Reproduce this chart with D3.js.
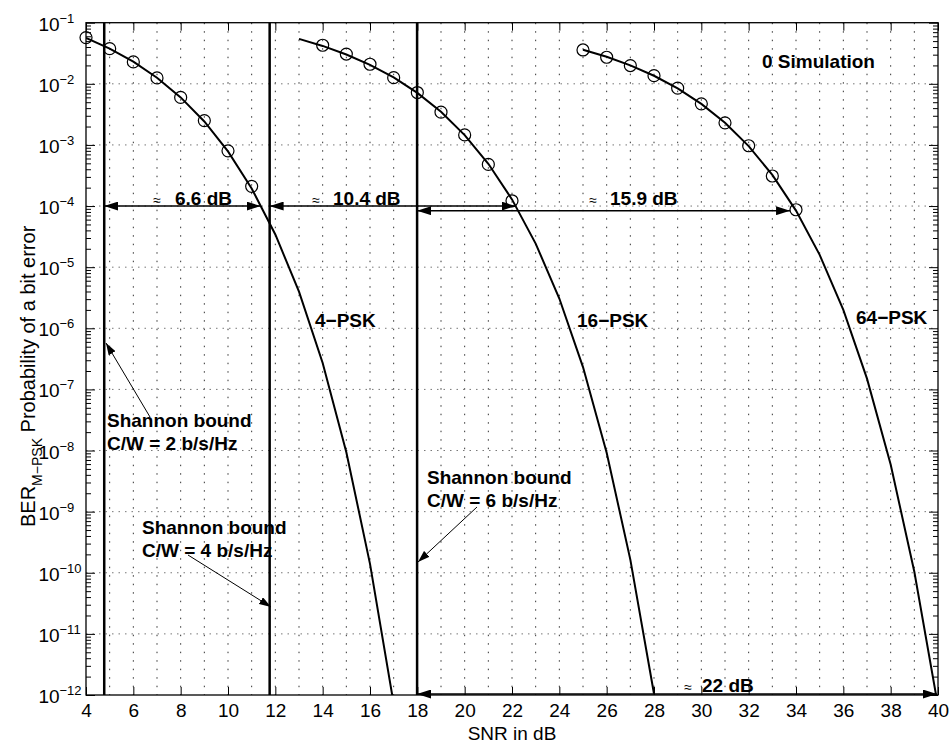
<!DOCTYPE html>
<html>
<head>
<meta charset="utf-8">
<script src="https://cdn.jsdelivr.net/npm/d3@7"></script>
<style>
  body { margin: 0; background: #fff; }
  text { font-family: "Liberation Sans", Arial, Helvetica, sans-serif; fill: #000; }
</style>
</head>
<body>
<svg id="chart" width="952" height="747"></svg>
<script>
// Bit error rate of M-PSK versus SNR (theory lines, simulation circles)
const snr4  = [4, 5, 6, 7, 8, 9, 10, 11, 12, 13, 14, 15, 16, 17];
const ber4  = [0.0565, 0.0377, 0.0230, 0.01258, 0.0060, 0.00242, 7.83e-4, 1.94e-4,
               3.43e-5, 3.97e-6, 2.70e-7, 9.4e-9, 1.40e-10, 7.2e-13];
const snr16 = [13, 14, 15, 16, 17, 18, 19, 20, 21, 22, 23, 24, 25, 26, 27, 28];
const ber16 = [0.0544, 0.0417, 0.0302, 0.0204, 0.0127, 0.0071, 0.00348, 0.00145,
               4.91e-4, 1.285e-4, 2.43e-5, 3.07e-6, 2.32e-7, 9.2e-9, 1.64e-10, 1.05e-12];
const snr64 = [25, 26, 27, 28, 29, 30, 31, 32, 33, 34, 35, 36, 37, 38, 39, 40];
const ber64 = [0.0362, 0.0277, 0.0200, 0.01355, 0.00842, 0.0047, 0.0023, 9.57e-4,
               3.23e-4, 8.42e-5, 1.59e-5, 2.0e-6, 1.5e-7, 5.9e-9, 1.04e-10, 6.6e-13];

const simSnr4  = [4, 5, 6, 7, 8, 9, 10, 11];
const simBer4  = [0.057, 0.0376, 0.0228, 0.0125, 0.0060, 0.0025, 0.00080, 0.00021];
const simSnr16 = [14, 15, 16, 17, 18, 19, 20, 21, 22];
const simBer16 = [0.0428, 0.0307, 0.0209, 0.0126, 0.0072, 0.00344, 0.00146, 0.00048, 0.000122];
const simSnr64 = [25, 26, 27, 28, 29, 30, 31, 32, 33, 34];
const simBer64 = [0.0358, 0.0272, 0.0199, 0.0136, 0.0085, 0.0047, 0.0023, 0.00097, 0.00031, 0.000087];

// Shannon limits (SNR in dB) for C/W = 2, 4, 6 b/s/Hz
const shannonSnr = [4.77, 11.76, 17.99];
const shannonLabels = ["C/W = 2 b/s/Hz", "C/W = 4 b/s/Hz", "C/W = 6 b/s/Hz"];

// Gaps between Shannon limit and curves
const gapFrom   = [4.77, 11.76, 17.99, 17.99];
const gapTo     = [11.38, 22.15, 33.75, 39.95];
const gapBer    = [1e-4, 1e-4, 8.4e-5, 1e-12];
const gapLabels = ["6.6 dB", "10.4 dB", "15.9 dB", "22 dB"];

const curveLabels = ["4\u2212PSK", "16\u2212PSK", "64\u2212PSK"];

const xTicks = [4, 6, 8, 10, 12, 14, 16, 18, 20, 22, 24, 26, 28, 30, 32, 34, 36, 38, 40];
const yExponents = [-1, -2, -3, -4, -5, -6, -7, -8, -9, -10, -11, -12];

const L = 86, R = 938, T = 22.7, B = 695;
const svg = d3.select("#chart");
const x = d3.scaleLinear().domain([4, 40]).range([L, R]);
const y = d3.scaleLog().domain([1e-12, 1e-1]).range([B, T]);

// arrowheads
const defs = svg.append("defs");
defs.append("marker").attr("id", "ah").attr("viewBox", "0 0 14 9")
  .attr("refX", 14).attr("refY", 4.5).attr("markerWidth", 14).attr("markerHeight", 9)
  .attr("markerUnits", "userSpaceOnUse").attr("orient", "auto-start-reverse")
  .append("path").attr("d", "M0,0L14,4.5L0,9Z").attr("fill", "#000");
defs.append("marker").attr("id", "ah2").attr("viewBox", "0 0 12 8")
  .attr("refX", 12).attr("refY", 4).attr("markerWidth", 12).attr("markerHeight", 8)
  .attr("markerUnits", "userSpaceOnUse").attr("orient", "auto")
  .append("path").attr("d", "M0,0L12,4L0,8Z").attr("fill", "#000");
defs.append("clipPath").attr("id", "plot").append("rect")
  .attr("x", L).attr("y", T).attr("width", R - L).attr("height", B - T);

// dotted grid
const grid = svg.append("g");
grid.selectAll("line.v").data(d3.range(5, 40)).join("line")
  .attr("x1", d => x(d)).attr("x2", d => x(d)).attr("y1", T).attr("y2", B)
  .attr("stroke", "#333").attr("stroke-width", 1).attr("stroke-dasharray", "1.5,7");
grid.selectAll("line.h").data(yExponents.slice(1, -1)).join("line")
  .attr("x1", L).attr("x2", R).attr("y1", d => y(Math.pow(10, d))).attr("y2", d => y(Math.pow(10, d)))
  .attr("stroke", "#777").attr("stroke-width", 1).attr("stroke-dasharray", "1.5,5");

// axes
const majorY = yExponents.map(e => Math.pow(10, e));
const minorY = [];
for (let e = -12; e <= -2; e++) for (let k = 2; k <= 9; k++) minorY.push(k * Math.pow(10, e));

const axB = svg.append("g").attr("transform", `translate(0,${B})`)
  .call(d3.axisBottom(x).tickValues(xTicks).tickSizeInner(-8).tickSizeOuter(0).tickPadding(8.5));
axB.selectAll("text").attr("font-size", 19).attr("font-family", "Liberation Sans, Arial, sans-serif");
svg.append("g").attr("transform", `translate(0,${T})`)
  .call(d3.axisTop(x).tickValues(xTicks).tickSizeInner(-8).tickSizeOuter(0).tickFormat(""));
svg.append("g").attr("transform", `translate(${L},0)`)
  .call(d3.axisLeft(y).tickValues(majorY).tickSizeInner(-9).tickSizeOuter(0).tickFormat(""));
svg.append("g").attr("transform", `translate(${L},0)`)
  .call(d3.axisLeft(y).tickValues(minorY).tickSizeInner(-5).tickSizeOuter(0).tickFormat(""));
svg.append("g").attr("transform", `translate(${R},0)`)
  .call(d3.axisRight(y).tickValues(majorY).tickSizeInner(-9).tickSizeOuter(0).tickFormat(""));
svg.append("g").attr("transform", `translate(${R},0)`)
  .call(d3.axisRight(y).tickValues(minorY).tickSizeInner(-5).tickSizeOuter(0).tickFormat(""));
svg.selectAll(".domain").remove();
svg.selectAll(".tick line").attr("stroke", "#000");
svg.append("rect").attr("x", L).attr("y", T).attr("width", R - L).attr("height", B - T)
  .attr("fill", "none").attr("stroke", "#000").attr("stroke-width", 1.3);

// y tick labels 10^e
const yl = svg.append("g").selectAll("text").data(yExponents).join("text")
  .attr("x", 38.4).attr("y", d => y(Math.pow(10, d)) + 8).attr("font-size", 19);
yl.append("tspan").text("10");
yl.append("tspan").attr("dy", -8).attr("font-size", 13).text(d => "\u2212" + (-d));

// axis titles
svg.append("text").attr("x", (L + R) / 2).attr("y", 740).attr("text-anchor", "middle")
  .attr("font-size", 19).text("SNR in dB");
const yt = svg.append("text").attr("transform", "translate(35,527) rotate(-90)").attr("font-size", 20);
yt.append("tspan").text("BER");
yt.append("tspan").attr("dy", 7).attr("font-size", 14).text("M\u2212PSK");
yt.append("tspan").attr("dy", -7).text(" Probability of a bit error");

// Shannon limit lines
svg.append("g").selectAll("line").data(shannonSnr).join("line")
  .attr("x1", d => x(d)).attr("x2", d => x(d)).attr("y1", T).attr("y2", B)
  .attr("stroke", "#000").attr("stroke-width", 2.5);

// theory curves
const line = d3.line().x(d => x(d[0])).y(d => y(d[1]));
const curves = svg.append("g").attr("clip-path", "url(#plot)");
[[snr4, ber4], [snr16, ber16], [snr64, ber64]].forEach(([s, b]) => {
  curves.append("path").attr("d", line(d3.zip(s, b)))
    .attr("fill", "none").attr("stroke", "#000").attr("stroke-width", 2);
});

// simulation markers
[[simSnr4, simBer4], [simSnr16, simBer16], [simSnr64, simBer64]].forEach(([s, b]) => {
  svg.append("g").selectAll("circle").data(d3.zip(s, b)).join("circle")
    .attr("cx", d => x(d[0])).attr("cy", d => y(d[1])).attr("r", 6)
    .attr("fill", "none").attr("stroke", "#000").attr("stroke-width", 1.2);
});

// gap arrows with labels
const gapTextX = [[157, 175], [316, 333], [593, 610], [688, 702]];
const gapTextY = [205, 205, 205, 692];
gapFrom.forEach((f, i) => {
  const yy = i === 3 ? B - 1 : y(gapBer[i]);
  svg.append("line").attr("x1", x(f)).attr("x2", x(gapTo[i])).attr("y1", yy).attr("y2", yy)
    .attr("stroke", "#000").attr("stroke-width", 1.5)
    .attr("marker-start", "url(#ah)").attr("marker-end", "url(#ah)");
  svg.append("text").attr("x", gapTextX[i][0]).attr("y", gapTextY[i]).attr("text-anchor", "middle")
    .attr("font-size", 14).text("\u2248");
  svg.append("text").attr("x", gapTextX[i][1]).attr("y", gapTextY[i])
    .attr("font-size", 19).attr("font-weight", "bold").text(gapLabels[i]);
});

// Shannon limit annotations
const annX = [107, 142, 427];
const annY = [427, 534, 484];
const arrowFrom = [[150, 417], [188, 555], [477, 507]];
const arrowTo = [[106, 343], [271, 607], [418, 562]];
shannonLabels.forEach((t, i) => {
  const g = svg.append("text").attr("x", annX[i]).attr("y", annY[i])
    .attr("font-size", 19).attr("font-weight", "bold");
  g.append("tspan").attr("x", annX[i]).text("Shannon bound");
  g.append("tspan").attr("x", annX[i]).attr("dy", 22.5).text(t);
  svg.append("line").attr("x1", arrowFrom[i][0]).attr("y1", arrowFrom[i][1])
    .attr("x2", arrowTo[i][0]).attr("y2", arrowTo[i][1])
    .attr("stroke", "#000").attr("stroke-width", 1).attr("marker-end", "url(#ah2)");
});

// curve names
const clX = [315, 577, 856];
const clY = [327, 327, 324];
curveLabels.forEach((t, i) => {
  svg.append("text").attr("x", clX[i]).attr("y", clY[i])
    .attr("font-size", 19).attr("font-weight", "bold").text(t);
});

// legend
svg.append("text").attr("x", 762).attr("y", 68).attr("font-size", 19)
  .attr("font-weight", "bold").text("0 Simulation");
</script>
</body>
</html>
